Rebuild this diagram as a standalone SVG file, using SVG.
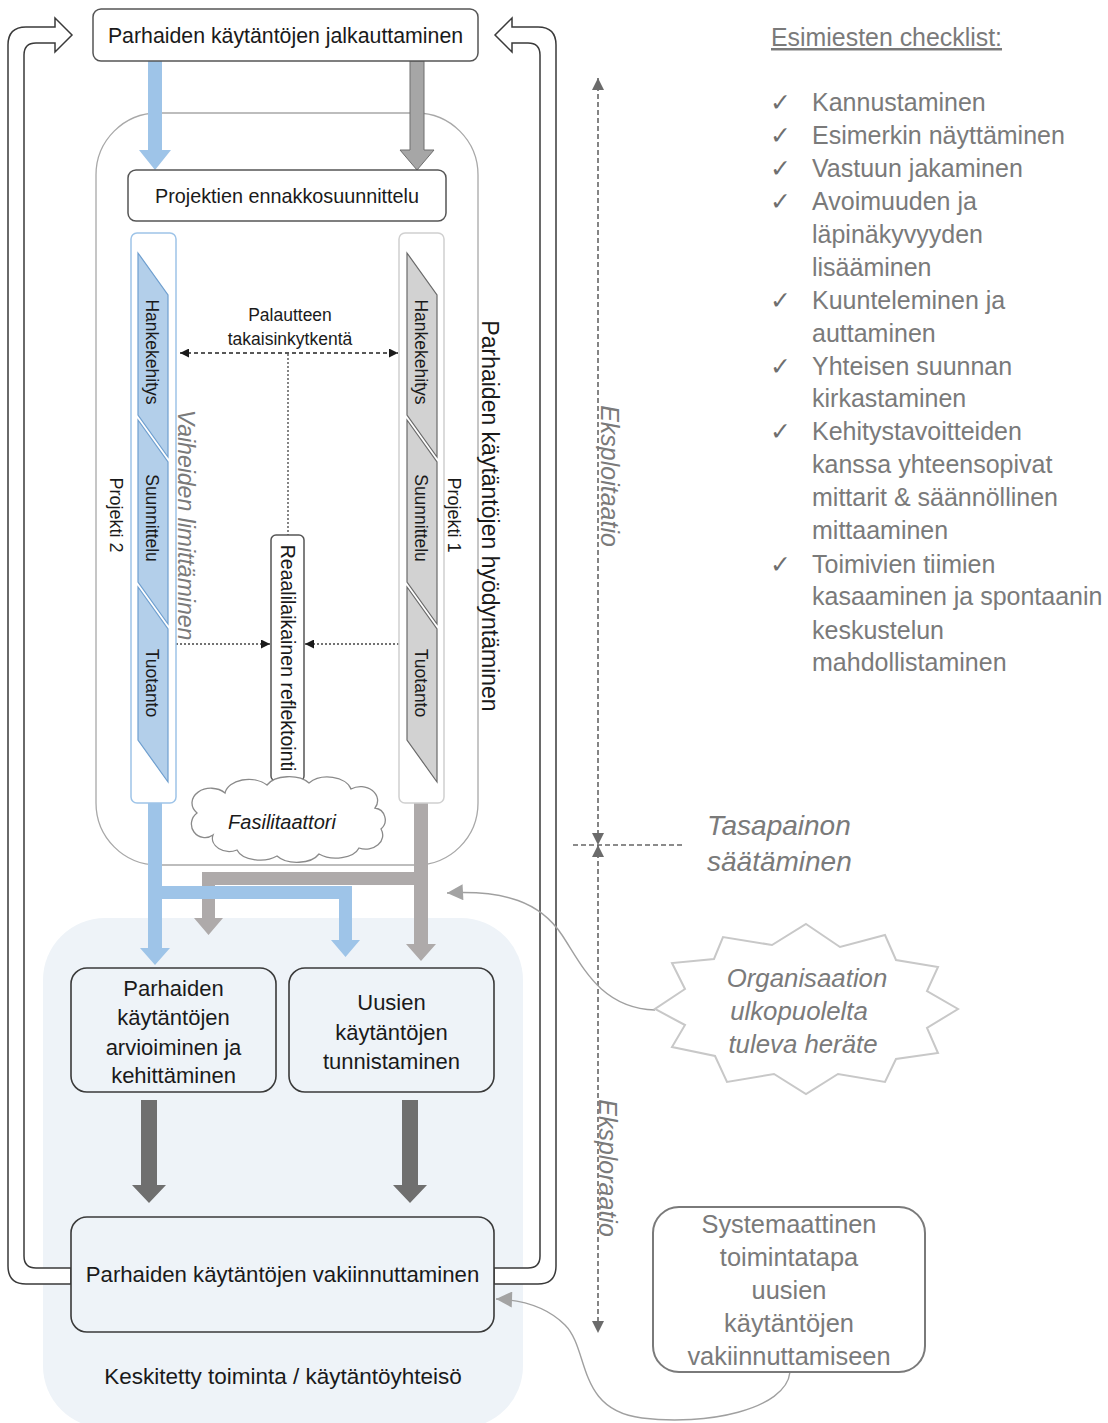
<svg xmlns="http://www.w3.org/2000/svg" width="1108" height="1423" viewBox="0 0 1108 1423">
<defs>
  <marker id="blk" viewBox="0 0 10 10" refX="10" refY="5" markerWidth="9" markerHeight="9" markerUnits="userSpaceOnUse" orient="auto-start-reverse">
    <path d="M0,0 L10,5 L0,10 z" fill="#1a1a1a"/>
  </marker>
  <marker id="axis" viewBox="0 0 10 10" refX="10" refY="5" markerWidth="14" markerHeight="12" markerUnits="userSpaceOnUse" orient="auto-start-reverse">
    <path d="M0,0 L10,5 L0,10 z" fill="#6b6b6b"/>
  </marker>
  <marker id="soft" viewBox="0 0 10 10" refX="10" refY="5" markerWidth="18" markerHeight="16" markerUnits="userSpaceOnUse" orient="auto">
    <path d="M0,0 L10,5 L0,10 z" fill="#a3a3a3"/>
  </marker>
  <style>
    .t { font-family: "Liberation Sans", Arial, sans-serif; fill: #1a1a1a; }
    .g { font-family: "Liberation Sans", Arial, sans-serif; fill: #7a7a7a; }
    .it { font-style: italic; }
    .box { fill: #ffffff; stroke: #555555; stroke-width: 1.5; }
    .bbox { fill: #eef3f8; stroke: #3a3a3a; stroke-width: 1.6; }
    .loop { fill: #ffffff; stroke: #3a3a3a; stroke-width: 1.5; }
    .bseg { fill: #b3cfea; stroke: #6f9fcf; stroke-width: 1.2; }
    .gseg { fill: #d2d2d2; stroke: #6a6a6a; stroke-width: 1.2; }
    .blue { fill: #9ec4e8; }
    .gray { fill: #aeaaaa; }
    .dark { fill: #6f6f6f; }
    .dash { fill: none; stroke: #222222; stroke-width: 1.4; stroke-dasharray: 4 3; }
    .dot { fill: none; stroke: #444444; stroke-width: 1.3; stroke-dasharray: 2 2; }
    .ax { fill: none; stroke: #666666; stroke-width: 1.6; stroke-dasharray: 5 3; }
    .curve { fill: none; stroke: #a0a0a0; stroke-width: 1.4; }
    .chk { font-family: "DejaVu Sans", sans-serif; fill: #6f6f6f; font-size: 25px; }
    .seg { font-size: 17.5px; }
    .li { font-size: 25px; }
  </style>
</defs>

<rect x="0" y="0" width="1108" height="1423" fill="#ffffff"/>

<!-- community area at the bottom -->
<g id="community">
  <rect x="43" y="918" width="480" height="510" rx="62" fill="#eef3f8"/>
  <text class="t" x="283" y="1384" font-size="22.5" text-anchor="middle">Keskitetty toiminta / käytäntöyhteisö</text>
</g>

<!-- exploitation container -->
<g id="exploitation">
  <rect x="96" y="113" width="382" height="752" rx="62" fill="none" stroke="#a8a8a8" stroke-width="1.3"/>
  <text class="t" font-size="23" text-anchor="middle" dominant-baseline="central" transform="translate(490,516) rotate(90)">Parhaiden käytäntöjen hyödyntäminen</text>
</g>

<g id="connectors">
  <!-- return loops to the top -->
  <path class="loop" d="M71 1268 L36 1268 Q24 1268 24 1256 L24 55 Q24 43 36 43 L55 43 L55 52 L72 35 L55 18 L55 27 L26 27 Q8 27 8 45 L8 1266 Q8 1284 26 1284 L71 1284 Z"/>
  <path class="loop" d="M494 1268 L528 1268 Q540 1268 540 1256 L540 55 Q540 43 528 43 L512 43 L512 52 L495 35 L512 18 L512 27 L538 27 Q556 27 556 45 L556 1266 Q556 1284 538 1284 L494 1284 Z"/>

  <!-- from deployment into planning -->
  <polygon class="blue" points="148,61 162,61 162,150 171,150 155,170 139,150 148,150"/>
  <polygon fill="#a6a6a6" stroke="#6e6e6e" stroke-width="1" points="410,61 424,61 424,150 434,150 417,170 400,150 410,150"/>

  <!-- project outputs -->
  <polygon class="gray" points="414,803 428,803 428,944 436,944 421,961 406,944 414,944"/>
  <polygon class="gray" points="428,872 428,885 215,885 215,918 223,918 208.5,935 194,918 202,918 202,872"/>
  <polygon class="blue" points="148,803 162,803 162,948 170,948 155,965 140,948 148,948"/>
  <polygon class="blue" points="160,886 352,886 352,940 360,940 345.5,957 331,940 339,940 339,899 160,899"/>

  <!-- into consolidation -->
  <polygon class="dark" points="141,1100 157,1100 157,1185 166,1185 149,1203 132,1185 141,1185"/>
  <polygon class="dark" points="402,1100 418,1100 418,1185 427,1185 410,1203 393,1185 402,1185"/>

  <!-- feedback and reflection -->
  <line class="dash" x1="180" y1="353" x2="398" y2="353" marker-start="url(#blk)" marker-end="url(#blk)"/>
  <line class="dot" x1="288" y1="354" x2="288" y2="535"/>
  <line class="dot" x1="168" y1="644" x2="270" y2="644" marker-end="url(#blk)"/>
  <line class="dot" x1="407" y1="644" x2="305" y2="644" marker-end="url(#blk)"/>

  <!-- exploitation / exploration axis -->
  <line class="ax" x1="598" y1="78" x2="598" y2="845" marker-start="url(#axis)" marker-end="url(#axis)"/>
  <line class="ax" x1="573" y1="845" x2="683" y2="845"/>
  <line class="ax" x1="598" y1="845" x2="598" y2="1333" marker-start="url(#axis)" marker-end="url(#axis)"/>

  <!-- external triggers -->
  <path class="curve" d="M655 1010 C600 1008 582 965 562 935 C540 902 505 890 447 893" marker-end="url(#soft)"/>
  <path class="curve" d="M790 1372 C786 1410 705 1426 642 1418 C576 1410 590 1350 565 1325 C548 1308 525 1300 496 1299" marker-end="url(#soft)"/>
</g>

<g id="deploy">
  <rect class="box" x="93" y="9" width="385" height="52" rx="8"/>
  <text class="t" x="285.5" y="43" font-size="21.3" text-anchor="middle">Parhaiden käytäntöjen jalkauttaminen</text>
</g>

<g id="preplanning">
  <rect class="box" x="128" y="170" width="318" height="51" rx="8"/>
  <text class="t" x="287" y="202.5" font-size="19.8" text-anchor="middle">Projektien ennakkosuunnittelu</text>
</g>

<g id="project2">
  <rect x="131" y="233" width="45" height="570" rx="6" fill="#ffffff" stroke="#9ec4e8" stroke-width="1.5"/>
  <polygon class="bseg" points="138,253 168,295 168,457 138,415"/>
  <polygon class="bseg" points="138,420 168,462 168,624 138,582"/>
  <polygon class="bseg" points="138,587 168,629 168,782 138,740"/>
  <text class="t seg" text-anchor="middle" dominant-baseline="central" transform="translate(152,352) rotate(90)">Hankekehitys</text>
  <text class="t seg" text-anchor="middle" dominant-baseline="central" transform="translate(152,518) rotate(90)">Suunnittelu</text>
  <text class="t seg" text-anchor="middle" dominant-baseline="central" transform="translate(152,683) rotate(90)">Tuotanto</text>
  <text class="t" font-size="18" text-anchor="middle" dominant-baseline="central" transform="translate(116,515) rotate(90)">Projekti 2</text>
  <text class="g it" font-size="23" text-anchor="middle" dominant-baseline="central" transform="translate(186,525) rotate(90)">Vaiheiden limittäminen</text>
</g>

<g id="project1">
  <rect x="399" y="233" width="45" height="570" rx="6" fill="#ffffff" stroke="#d0d0d0" stroke-width="1.5"/>
  <polygon class="gseg" points="407,253 437,295 437,457 407,415"/>
  <polygon class="gseg" points="407,420 437,462 437,624 407,582"/>
  <polygon class="gseg" points="407,587 437,629 437,782 407,740"/>
  <text class="t seg" text-anchor="middle" dominant-baseline="central" transform="translate(421,352) rotate(90)">Hankekehitys</text>
  <text class="t seg" text-anchor="middle" dominant-baseline="central" transform="translate(421,518) rotate(90)">Suunnittelu</text>
  <text class="t seg" text-anchor="middle" dominant-baseline="central" transform="translate(421,683) rotate(90)">Tuotanto</text>
  <text class="t" font-size="18" text-anchor="middle" dominant-baseline="central" transform="translate(454,515) rotate(90)">Projekti 1</text>
</g>

<g id="feedback">
  <text class="t" x="290" y="321" font-size="17.5" text-anchor="middle">Palautteen</text>
  <text class="t" x="290" y="345" font-size="17.5" text-anchor="middle">takaisinkytkentä</text>
</g>

<g id="reflection">
  <rect x="271" y="535" width="33" height="246" rx="5" fill="#ffffff" stroke="#555555" stroke-width="1.5"/>
  <text class="t" font-size="19.5" text-anchor="middle" dominant-baseline="central" transform="translate(287.5,658) rotate(90)">Reaalilaikainen reflektointi</text>
</g>

<g id="facilitator">
  <path d="M197 813 a18 14 0 0 1 28 -20 a24 16 0 0 1 42 -8 a24 14 0 0 1 42 -2 a24 16 0 0 1 42 6 a17 14 0 0 1 24 19 a12 12 0 0 1 6 21 a17 14 0 0 1 -22 19 a24 14 0 0 1 -40 6 a24 14 0 0 1 -42 2 a24 14 0 0 1 -40 -6 a17 13 0 0 1 -24 -15 a12 12 0 0 1 -16 -22 z" fill="#ffffff" stroke="#8a8a8a" stroke-width="1.3"/>
  <text class="t it" x="282" y="829" font-size="20" text-anchor="middle">Fasilitaattori</text>
</g>

<g id="evaluate">
  <rect class="bbox" x="71" y="968" width="205" height="124" rx="16"/>
  <text class="t" x="173.5" y="996" font-size="22" text-anchor="middle">Parhaiden</text>
  <text class="t" x="173.5" y="1025" font-size="22" text-anchor="middle">käytäntöjen</text>
  <text class="t" x="173.5" y="1055" font-size="22" text-anchor="middle">arvioiminen ja</text>
  <text class="t" x="173.5" y="1083" font-size="22" text-anchor="middle">kehittäminen</text>
</g>

<g id="identify">
  <rect class="bbox" x="289" y="968" width="205" height="124" rx="16"/>
  <text class="t" x="391.5" y="1010" font-size="22" text-anchor="middle">Uusien</text>
  <text class="t" x="391.5" y="1040" font-size="22" text-anchor="middle">käytäntöjen</text>
  <text class="t" x="391.5" y="1069" font-size="22" text-anchor="middle">tunnistaminen</text>
</g>

<g id="consolidate">
  <rect class="bbox" x="71" y="1217" width="423" height="115" rx="16"/>
  <text class="t" x="282.5" y="1282" font-size="22.2" text-anchor="middle">Parhaiden käytäntöjen vakiinnuttaminen</text>
</g>

<g id="axis-labels">
  <text class="g it" font-size="25" text-anchor="middle" dominant-baseline="central" transform="translate(610,476) rotate(90)">Eksploitaatio</text>
  <text class="g it" font-size="25" text-anchor="middle" dominant-baseline="central" transform="translate(608,1168) rotate(90)">Eksploraatio</text>
  <text class="g it" x="707" y="835" font-size="28">Tasapainon</text>
  <text class="g it" x="707" y="871" font-size="28">säätäminen</text>
</g>

<g id="trigger">
  <polygon points="806,924 840,947 885,935 896,960 938,967 927,991 958,1009 927,1028 938,1053 896,1059 885,1082 838,1074 806,1094 774,1074 727,1082 715,1056 672,1047 685,1025 655,1009 685,989 672,963 714,959 723,937 772,945" fill="#ffffff" stroke="#c8c8c8" stroke-width="2"/>
  <text class="g it" x="807" y="987" font-size="25.8" text-anchor="middle">Organisaation</text>
  <text class="g it" x="799" y="1020" font-size="25.8" text-anchor="middle">ulkopuolelta</text>
  <text class="g it" x="803" y="1053" font-size="25.8" text-anchor="middle">tuleva heräte</text>
</g>

<g id="systematic">
  <rect x="653" y="1207" width="272" height="165" rx="26" fill="#ffffff" stroke="#7a7a7a" stroke-width="2"/>
  <text class="g" x="789" y="1233" font-size="25.4" text-anchor="middle">Systemaattinen</text>
  <text class="g" x="789" y="1266" font-size="25.4" text-anchor="middle">toimintatapa</text>
  <text class="g" x="789" y="1299" font-size="25.4" text-anchor="middle">uusien</text>
  <text class="g" x="789" y="1332" font-size="25.4" text-anchor="middle">käytäntöjen</text>
  <text class="g" x="789" y="1365" font-size="25.4" text-anchor="middle">vakiinnuttamiseen</text>
</g>

<g id="checklist">
  <text class="g" x="771" y="46" font-size="24.9" text-decoration="underline">Esimiesten checklist:</text>
  <text class="chk" x="770" y="111">✓</text>
  <text class="g li" x="812" y="111">Kannustaminen</text>
  <text class="chk" x="770" y="144">✓</text>
  <text class="g li" x="812" y="144">Esimerkin näyttäminen</text>
  <text class="chk" x="770" y="177">✓</text>
  <text class="g li" x="812" y="177">Vastuun jakaminen</text>
  <text class="chk" x="770" y="210">✓</text>
  <text class="g li" x="812" y="210">Avoimuuden ja</text>
  <text class="g li" x="812" y="243">läpinäkyvyyden</text>
  <text class="g li" x="812" y="276">lisääminen</text>
  <text class="chk" x="770" y="309">✓</text>
  <text class="g li" x="812" y="309">Kuunteleminen ja</text>
  <text class="g li" x="812" y="342">auttaminen</text>
  <text class="chk" x="770" y="375">✓</text>
  <text class="g li" x="812" y="375">Yhteisen suunnan</text>
  <text class="g li" x="812" y="407">kirkastaminen</text>
  <text class="chk" x="770" y="440">✓</text>
  <text class="g li" x="812" y="440">Kehitystavoitteiden</text>
  <text class="g li" x="812" y="473">kanssa yhteensopivat</text>
  <text class="g li" x="812" y="506">mittarit &amp; säännöllinen</text>
  <text class="g li" x="812" y="539">mittaaminen</text>
  <text class="chk" x="770" y="573">✓</text>
  <text class="g li" x="812" y="573">Toimivien tiimien</text>
  <text class="g li" x="812" y="605">kasaaminen ja spontaanin</text>
  <text class="g li" x="812" y="639">keskustelun</text>
  <text class="g li" x="812" y="671">mahdollistaminen</text>
</g>
</svg>
